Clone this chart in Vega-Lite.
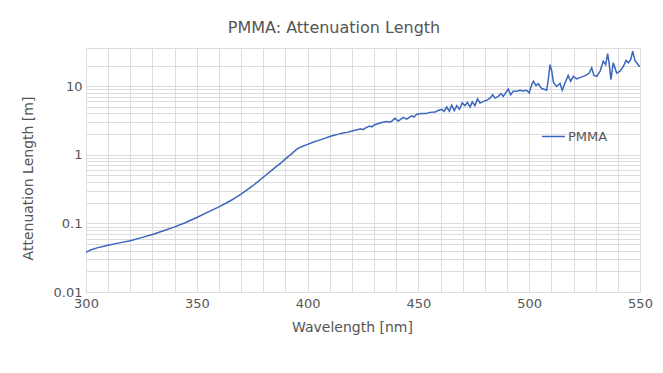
{
  "$schema": "https://vega.github.io/schema/vega-lite/v6.json",
  "width": 554,
  "height": 244,
  "autosize": {"type": "none"},
  "padding": {"left": 86, "top": 48, "right": 23, "bottom": 81},
  "background": "white",
  "title": {
    "text": "PMMA: Attenuation Length",
    "font": "DejaVu Sans",
    "fontSize": 16,
    "fontWeight": "normal",
    "color": "#555555",
    "anchor": "middle",
    "dx": -29,
    "offset": 12
  },
  "config": {
    "view": {"stroke": "#dddddd"},
    "font": "DejaVu Sans"
  },
  "data": {
    "values": [
      {"wl": 300, "att": 0.038, "series": "PMMA"},
      {"wl": 302, "att": 0.041, "series": "PMMA"},
      {"wl": 305, "att": 0.044, "series": "PMMA"},
      {"wl": 310, "att": 0.048, "series": "PMMA"},
      {"wl": 315, "att": 0.052, "series": "PMMA"},
      {"wl": 320, "att": 0.056, "series": "PMMA"},
      {"wl": 325, "att": 0.062, "series": "PMMA"},
      {"wl": 330, "att": 0.069, "series": "PMMA"},
      {"wl": 335, "att": 0.078, "series": "PMMA"},
      {"wl": 340, "att": 0.089, "series": "PMMA"},
      {"wl": 345, "att": 0.103, "series": "PMMA"},
      {"wl": 350, "att": 0.122, "series": "PMMA"},
      {"wl": 355, "att": 0.146, "series": "PMMA"},
      {"wl": 360, "att": 0.174, "series": "PMMA"},
      {"wl": 365, "att": 0.212, "series": "PMMA"},
      {"wl": 367.5, "att": 0.238, "series": "PMMA"},
      {"wl": 370, "att": 0.268, "series": "PMMA"},
      {"wl": 372.5, "att": 0.305, "series": "PMMA"},
      {"wl": 375, "att": 0.348, "series": "PMMA"},
      {"wl": 380, "att": 0.47, "series": "PMMA"},
      {"wl": 385, "att": 0.64, "series": "PMMA"},
      {"wl": 388, "att": 0.76, "series": "PMMA"},
      {"wl": 390, "att": 0.87, "series": "PMMA"},
      {"wl": 393, "att": 1.05, "series": "PMMA"},
      {"wl": 395, "att": 1.2, "series": "PMMA"},
      {"wl": 397, "att": 1.3, "series": "PMMA"},
      {"wl": 400, "att": 1.42, "series": "PMMA"},
      {"wl": 403, "att": 1.55, "series": "PMMA"},
      {"wl": 405, "att": 1.62, "series": "PMMA"},
      {"wl": 408, "att": 1.75, "series": "PMMA"},
      {"wl": 410, "att": 1.85, "series": "PMMA"},
      {"wl": 412, "att": 1.93, "series": "PMMA"},
      {"wl": 414, "att": 2.0, "series": "PMMA"},
      {"wl": 416, "att": 2.08, "series": "PMMA"},
      {"wl": 418, "att": 2.12, "series": "PMMA"},
      {"wl": 420, "att": 2.22, "series": "PMMA"},
      {"wl": 422, "att": 2.3, "series": "PMMA"},
      {"wl": 424, "att": 2.4, "series": "PMMA"},
      {"wl": 425, "att": 2.33, "series": "PMMA"},
      {"wl": 426, "att": 2.45, "series": "PMMA"},
      {"wl": 428, "att": 2.62, "series": "PMMA"},
      {"wl": 429, "att": 2.55, "series": "PMMA"},
      {"wl": 430, "att": 2.72, "series": "PMMA"},
      {"wl": 432, "att": 2.85, "series": "PMMA"},
      {"wl": 433.5, "att": 2.95, "series": "PMMA"},
      {"wl": 435.7, "att": 3.05, "series": "PMMA"},
      {"wl": 437, "att": 2.98, "series": "PMMA"},
      {"wl": 438, "att": 3.1, "series": "PMMA"},
      {"wl": 439.4, "att": 3.4, "series": "PMMA"},
      {"wl": 440.9, "att": 3.1, "series": "PMMA"},
      {"wl": 443.2, "att": 3.5, "series": "PMMA"},
      {"wl": 444.7, "att": 3.3, "series": "PMMA"},
      {"wl": 447, "att": 3.7, "series": "PMMA"},
      {"wl": 448, "att": 3.55, "series": "PMMA"},
      {"wl": 449.2, "att": 3.9, "series": "PMMA"},
      {"wl": 451.5, "att": 4.0, "series": "PMMA"},
      {"wl": 453.7, "att": 4.0, "series": "PMMA"},
      {"wl": 455.2, "att": 4.15, "series": "PMMA"},
      {"wl": 457.5, "att": 4.2, "series": "PMMA"},
      {"wl": 459, "att": 4.43, "series": "PMMA"},
      {"wl": 460.5, "att": 4.6, "series": "PMMA"},
      {"wl": 461.6, "att": 4.3, "series": "PMMA"},
      {"wl": 462.8, "att": 4.97, "series": "PMMA"},
      {"wl": 464, "att": 4.3, "series": "PMMA"},
      {"wl": 465, "att": 5.3, "series": "PMMA"},
      {"wl": 466.2, "att": 4.4, "series": "PMMA"},
      {"wl": 467.3, "att": 5.2, "series": "PMMA"},
      {"wl": 468.5, "att": 4.6, "series": "PMMA"},
      {"wl": 469.8, "att": 5.7, "series": "PMMA"},
      {"wl": 471, "att": 5.2, "series": "PMMA"},
      {"wl": 472.1, "att": 5.8, "series": "PMMA"},
      {"wl": 473.3, "att": 4.97, "series": "PMMA"},
      {"wl": 474.3, "att": 5.9, "series": "PMMA"},
      {"wl": 475.5, "att": 5.2, "series": "PMMA"},
      {"wl": 476.7, "att": 6.5, "series": "PMMA"},
      {"wl": 477.8, "att": 5.7, "series": "PMMA"},
      {"wl": 479.3, "att": 6.0, "series": "PMMA"},
      {"wl": 480.8, "att": 6.2, "series": "PMMA"},
      {"wl": 482.3, "att": 6.7, "series": "PMMA"},
      {"wl": 483.5, "att": 7.5, "series": "PMMA"},
      {"wl": 484.6, "att": 6.7, "series": "PMMA"},
      {"wl": 486, "att": 7.1, "series": "PMMA"},
      {"wl": 487.3, "att": 7.8, "series": "PMMA"},
      {"wl": 488.3, "att": 7.1, "series": "PMMA"},
      {"wl": 489.5, "att": 8.1, "series": "PMMA"},
      {"wl": 490.6, "att": 9.1, "series": "PMMA"},
      {"wl": 491.6, "att": 7.5, "series": "PMMA"},
      {"wl": 492.8, "att": 8.4, "series": "PMMA"},
      {"wl": 494.4, "att": 8.4, "series": "PMMA"},
      {"wl": 495.8, "att": 8.7, "series": "PMMA"},
      {"wl": 497.3, "att": 8.5, "series": "PMMA"},
      {"wl": 498.8, "att": 8.7, "series": "PMMA"},
      {"wl": 500, "att": 8.0, "series": "PMMA"},
      {"wl": 501.1, "att": 10.5, "series": "PMMA"},
      {"wl": 501.9, "att": 11.8, "series": "PMMA"},
      {"wl": 503.1, "att": 10.2, "series": "PMMA"},
      {"wl": 504.1, "att": 10.9, "series": "PMMA"},
      {"wl": 504.9, "att": 9.9, "series": "PMMA"},
      {"wl": 505.6, "att": 9.3, "series": "PMMA"},
      {"wl": 506.4, "att": 9.1, "series": "PMMA"},
      {"wl": 507.9, "att": 8.7, "series": "PMMA"},
      {"wl": 508.6, "att": 12.4, "series": "PMMA"},
      {"wl": 509.4, "att": 20.6, "series": "PMMA"},
      {"wl": 510.2, "att": 16.5, "series": "PMMA"},
      {"wl": 510.9, "att": 11.4, "series": "PMMA"},
      {"wl": 512.4, "att": 9.9, "series": "PMMA"},
      {"wl": 513.9, "att": 11.0, "series": "PMMA"},
      {"wl": 514.9, "att": 8.7, "series": "PMMA"},
      {"wl": 516.1, "att": 11.0, "series": "PMMA"},
      {"wl": 517.6, "att": 14.3, "series": "PMMA"},
      {"wl": 518.7, "att": 11.8, "series": "PMMA"},
      {"wl": 519.9, "att": 13.9, "series": "PMMA"},
      {"wl": 521.4, "att": 12.8, "series": "PMMA"},
      {"wl": 522.9, "att": 13.3, "series": "PMMA"},
      {"wl": 524.4, "att": 13.9, "series": "PMMA"},
      {"wl": 525.9, "att": 14.6, "series": "PMMA"},
      {"wl": 527.1, "att": 15.5, "series": "PMMA"},
      {"wl": 528.2, "att": 18.5, "series": "PMMA"},
      {"wl": 529.2, "att": 14.3, "series": "PMMA"},
      {"wl": 530.5, "att": 13.9, "series": "PMMA"},
      {"wl": 532, "att": 16.5, "series": "PMMA"},
      {"wl": 533.4, "att": 23.1, "series": "PMMA"},
      {"wl": 534.5, "att": 20.6, "series": "PMMA"},
      {"wl": 535.4, "att": 29.8, "series": "PMMA"},
      {"wl": 536.1, "att": 21.3, "series": "PMMA"},
      {"wl": 536.9, "att": 12.4, "series": "PMMA"},
      {"wl": 537.9, "att": 21.9, "series": "PMMA"},
      {"wl": 539.5, "att": 15.5, "series": "PMMA"},
      {"wl": 541, "att": 16.5, "series": "PMMA"},
      {"wl": 542.5, "att": 19.5, "series": "PMMA"},
      {"wl": 543.7, "att": 23.8, "series": "PMMA"},
      {"wl": 544.7, "att": 21.9, "series": "PMMA"},
      {"wl": 545.8, "att": 24.4, "series": "PMMA"},
      {"wl": 546.7, "att": 32.3, "series": "PMMA"},
      {"wl": 547.7, "att": 23.8, "series": "PMMA"},
      {"wl": 548.5, "att": 21.9, "series": "PMMA"},
      {"wl": 549.7, "att": 19.5, "series": "PMMA"},
      {"wl": 550, "att": 19.5, "series": "PMMA"}
    ]
  },
  "mark": {"type": "line", "strokeWidth": 1.5, "clip": true},
  "encoding": {
    "x": {
      "field": "wl",
      "type": "quantitative",
      "scale": {"domain": [300, 550], "nice": false, "zero": false},
      "axis": {
        "title": "Wavelength [nm]",
        "values": [300,310,320,330,340,350,360,370,380,390,400,410,420,430,440,450,460,470,480,490,500,510,520,530,540,550],
        "labelExpr": "datum.value % 50 === 0 ? datum.label : ''",
        "format": "d",
        "domain": false,
        "ticks": false,
        "grid": true,
        "gridColor": "#dddddd",
        "gridWidth": 1,
        "labelFont": "DejaVu Sans",
        "labelFontSize": 13,
        "labelColor": "#555555",
        "labelPadding": 5,
        "labelFlush": false,
        "labelOverlap": false,
        "titleFont": "DejaVu Sans",
        "titleFontSize": 14,
        "titleFontWeight": "normal",
        "titleColor": "#555555",
        "titlePadding": 10,
        "titleX": 266
      }
    },
    "y": {
      "field": "att",
      "type": "quantitative",
      "scale": {"type": "log", "domain": [0.01, 36], "nice": false},
      "axis": {
        "title": "Attenuation Length [m]",
        "values": [0.01,0.02,0.03,0.04,0.05,0.06,0.07,0.08,0.09,0.1,0.2,0.3,0.4,0.5,0.6,0.7,0.8,0.9,1,2,3,4,5,6,7,8,9,10,20],
        "labelExpr": "datum.value === 0.01 ? '0.01' : datum.value === 0.1 ? '0.1' : datum.value === 1 ? '1' : datum.value === 10 ? '10' : ''",
        "domain": false,
        "ticks": false,
        "grid": true,
        "gridColor": "#dddddd",
        "gridWidth": 1,
        "labelFont": "DejaVu Sans",
        "labelFontSize": 13,
        "labelColor": "#555555",
        "labelPadding": 4,
        "labelFlush": false,
        "labelOverlap": false,
        "titleFont": "DejaVu Sans",
        "titleFontSize": 14,
        "titleFontWeight": "normal",
        "titleColor": "#555555",
        "titleX": -58,
        "titleY": 130,
        "titleBaseline": "middle",
        "titleAngle": -90
      }
    },
    "color": {
      "field": "series",
      "type": "nominal",
      "scale": {"range": ["#3b66bd"]},
      "legend": {
        "title": null,
        "orient": "none",
        "legendX": 455,
        "legendY": 76,
        "padding": 0,
        "symbolType": "stroke",
        "symbolSize": 529,
        "symbolStrokeWidth": 1.5,
        "labelFont": "DejaVu Sans",
        "labelFontSize": 13,
        "labelColor": "#555555",
        "labelOffset": 2
      }
    }
  }
}
